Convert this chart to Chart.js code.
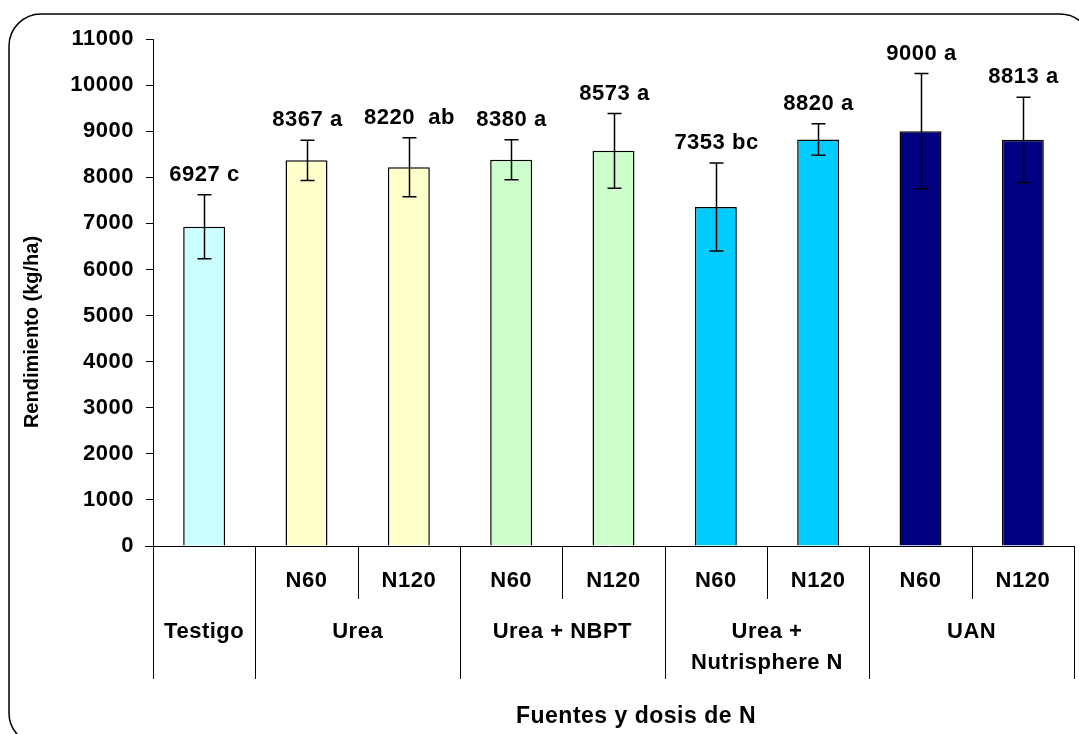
<!DOCTYPE html>
<html>
<head>
<meta charset="utf-8">
<script src="https://cdn.jsdelivr.net/npm/chart.js@4"></script>
<style>
    html, body { margin: 0; padding: 0; background: #fff; }
    #wrap { width: 1079px; height: 734px; }
</style>
</head>
<body>
<div id="wrap"><canvas id="mainChart" width="1079" height="734"></canvas></div>
<script>
// Rendimiento por fuente y dosis de N
const doses = ['', 'N60', 'N120', 'N60', 'N120', 'N60', 'N120', 'N60', 'N120'];
const groupLabels = [['Testigo'], ['Urea'], ['Urea + NBPT'], ['Urea +', 'Nutrisphere N'], ['UAN']];
const groupSizes = [1, 2, 2, 2, 2];
const yields = [6927, 8367, 8220, 8380, 8573, 7353, 8820, 9000, 8813];
const errors = [695, 435, 640, 435, 810, 955, 340, 1250, 925];
const letters = ['c', 'a', ' ab', 'a', 'a', 'bc', 'a', 'a', 'a'];
const barColors = ['#CCFFFF', '#FFFFCC', '#FFFFCC', '#CCFFCC', '#CCFFCC', '#00CCFF', '#00CCFF', '#000080', '#000080'];

const FONT = '"Liberation Sans", Arial, sans-serif';

// rounded frame around the whole figure, plus the loose text spacing
const framePlugin = {
    id: 'frame',
    beforeDraw(chart) {
        const ctx = chart.ctx;
        ctx.letterSpacing = '0.5px';
        ctx.save();
        ctx.strokeStyle = '#000';
        ctx.lineWidth = 1.5;
        ctx.beginPath();
        ctx.roundRect(9, 14, 1083, 731, 32);
        ctx.stroke();
        ctx.restore();
    }
};

// error bars and value labels
const errorBarPlugin = {
    id: 'errorBars',
    afterDatasetsDraw(chart) {
        const ctx = chart.ctx;
        const x = chart.scales.x;
        const y = chart.scales.y;
        ctx.save();
        ctx.strokeStyle = '#000';
        ctx.lineWidth = 1.5;
        ctx.fillStyle = '#000';
        ctx.font = 'bold 22px ' + FONT;
        ctx.textAlign = 'center';
        ctx.textBaseline = 'alphabetic';
        yields.forEach((v, i) => {
            const cx = Math.round(x.getPixelForValue(i)) + 0.5;
            const top = y.getPixelForValue(v + errors[i]);
            const bottom = y.getPixelForValue(v - errors[i]);
            ctx.beginPath();
            ctx.moveTo(cx, top);
            ctx.lineTo(cx, bottom);
            ctx.moveTo(cx - 7, top);
            ctx.lineTo(cx + 7, top);
            ctx.moveTo(cx - 7, bottom);
            ctx.lineTo(cx + 7, bottom);
            ctx.stroke();
            ctx.fillText(v + ' ' + letters[i], cx, top - 14);
        });
        ctx.restore();
    }
};

// two-level category axis with separators
const groupAxisPlugin = {
    id: 'groupAxis',
    afterDraw(chart) {
        const ctx = chart.ctx;
        const x = chart.scales.x;
        const area = chart.chartArea;
        const step = (area.right - area.left) / doses.length;
        const base = area.bottom;
        ctx.save();
        ctx.strokeStyle = '#000';
        ctx.lineWidth = 1;
        ctx.beginPath();
        ctx.moveTo(area.left - 8, base + 0.5);
        ctx.lineTo(area.right, base + 0.5);
        ctx.stroke();

        // separators: long at group edges, short between doses
        const edges = [0];
        groupSizes.forEach(s => edges.push(edges[edges.length - 1] + s));
        for (let k = 0; k <= doses.length; k++) {
            const px = Math.round(area.left + k * step) + 0.5;
            const long = edges.includes(k);
            ctx.beginPath();
            ctx.moveTo(px, base);
            ctx.lineTo(px, base + (long ? 133 : 53));
            ctx.stroke();
        }

        ctx.fillStyle = '#000';
        ctx.font = 'bold 22px ' + FONT;
        ctx.textAlign = 'center';
        ctx.textBaseline = 'middle';
        doses.forEach((d, i) => {
            if (d) ctx.fillText(d, x.getPixelForValue(i), base + 35);
        });
        groupLabels.forEach((lines, g) => {
            const cx = area.left + (edges[g] + groupSizes[g] / 2) * step;
            lines.forEach((t, j) => ctx.fillText(t, cx, base + 86 + j * 31));
        });

        // axis titles
        ctx.font = 'bold 23px ' + FONT;
        ctx.fillText('Fuentes y dosis de N', 636, 717);
        ctx.letterSpacing = '0px';
        ctx.font = 'bold 20px ' + FONT;
        ctx.translate(32, 332);
        ctx.rotate(-Math.PI / 2);
        ctx.fillText('Rendimiento (kg/ha)', 0, 0);
        ctx.restore();
    }
};

const ctx = document.getElementById('mainChart');
new Chart(ctx, {
    type: 'bar',
    data: {
        labels: doses.map(d => d || 'Testigo'),
        datasets: [{
            data: yields,
            backgroundColor: barColors,
            borderColor: '#000',
            borderWidth: 1.5,
            categoryPercentage: 1,
            barPercentage: 0.41
        }]
    },
    options: {
        responsive: false,
        animation: false,
        devicePixelRatio: 1,
        layout: {
            padding: { left: 0, right: 5, top: 39, bottom: 188 }
        },
        plugins: {
            legend: { display: false },
            tooltip: { enabled: false }
        },
        scales: {
            x: {
                display: false,
                offset: true
            },
            y: {
                min: 0,
                max: 11000,
                afterFit(scale) { scale.width = 153; },
                border: { color: '#000', width: 1 },
                grid: {
                    drawOnChartArea: false,
                    drawTicks: true,
                    tickLength: 7,
                    color: '#000'
                },
                ticks: {
                    stepSize: 1000,
                    padding: 12,
                    color: '#000',
                    font: { family: FONT, size: 22, weight: 'bold' },
                    callback: v => String(v)
                }
            }
        }
    },
    plugins: [framePlugin, errorBarPlugin, groupAxisPlugin]
});
</script>
</body>
</html>
